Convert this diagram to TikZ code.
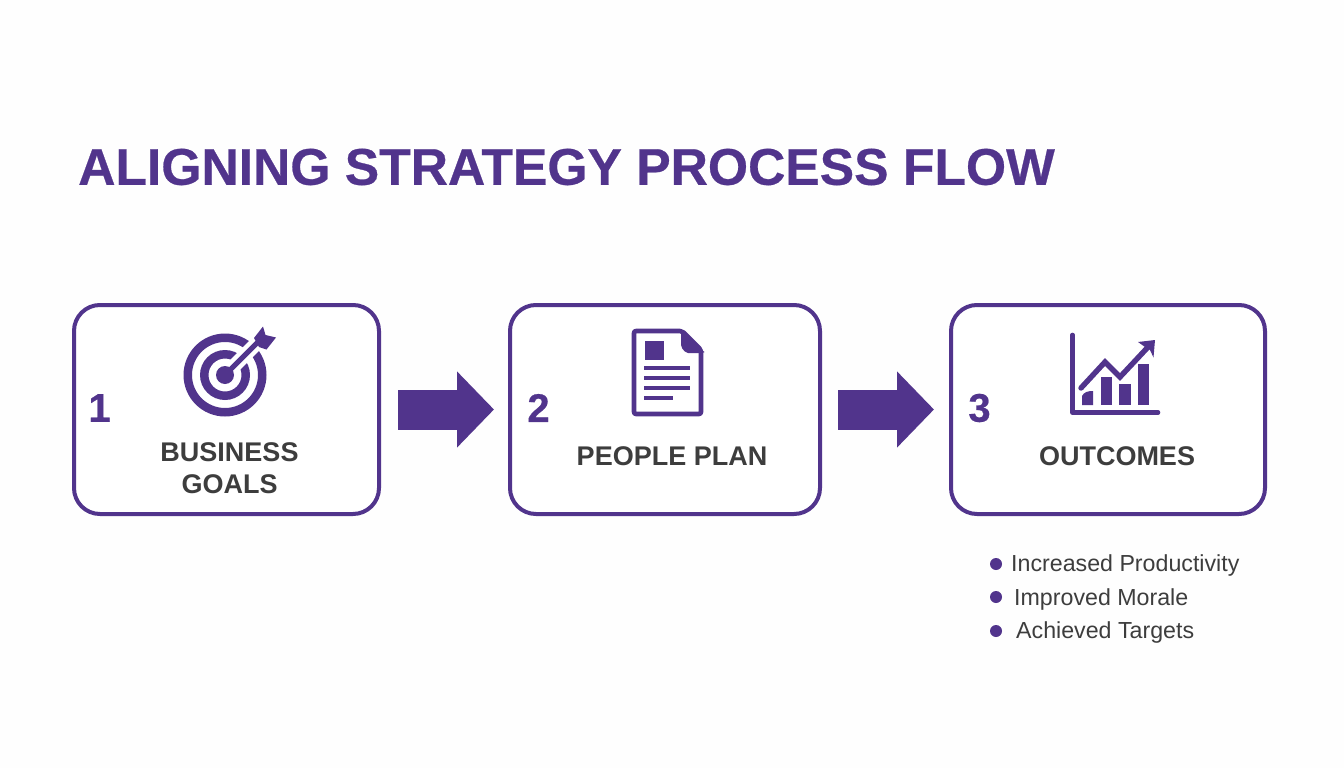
\documentclass[tikz,border=0pt]{standalone}
\usepackage{fontspec}
\setmainfont{Liberation Sans}
\newfontfamily\heavyfont[BoldFont={Liberation Sans Bold},BoldFeatures={FakeBold=0.5}]{Liberation Sans}
\usetikzlibrary{arrows.meta,calc}
\definecolor{vio}{HTML}{51348C}
\definecolor{ink}{HTML}{3D3D3D}
\tikzset{
 card/.style={draw=vio,line width=4pt,rounded corners=26pt,fill=white,inner sep=0pt},
 flow/.style={draw=vio,line width=40pt,-{Triangle[length=37pt,width=74pt,fill=vio]}},
 num/.style={text=vio,font=\heavyfont\fontsize{40}{44}\selectfont\bfseries,inner sep=0pt},
 lab/.style={text=ink,font=\fontsize{27}{32}\selectfont\bfseries,inner sep=0pt,align=center},
 item/.style={text=ink,font=\fontsize{23.2}{26}\selectfont,inner sep=0pt,anchor=west},
 dot/.style={fill=vio,circle,minimum size=12pt,inner sep=0pt},
 ico/.style={draw=vio,line width=4.6pt},
 bar/.style={fill=vio,draw=none}
}
\begin{document}
\begin{tikzpicture}[x=1pt,y=-1pt]
\useasboundingbox (0,0) rectangle (1344,768);
\fill[white!99.5!vio] (0,0) rectangle (1344,768);
\node[anchor=west,text=vio,font=\heavyfont\fontsize{51.6}{56}\selectfont\bfseries,inner sep=0pt] (title) at (78,167) {ALIGNING STRATEGY PROCESS FLOW};
% cards
\node[card,minimum width=305pt,minimum height=209pt] (c1) at (226.5,409.5) {};
\node[card,minimum width=310pt,minimum height=209pt] (c2) at (665,409.5) {};
\node[card,minimum width=314pt,minimum height=209pt] (c3) at (1108,409.5) {};
% arrows
\draw[flow,shorten <=17pt,shorten >=14pt] (c1.east) -- (c2.west);
\draw[flow,shorten <=16pt,shorten >=15pt] (c2.east) -- (c3.west);
% numbers
\node[num] (n1) at (99.5,408) {1};
\node[num] (n2) at (538.5,408) {2};
\node[num] (n3) at (979.5,408) {3};
% labels
\node[lab] (l1a) at (229.5,452) {BUSINESS};
\node[lab] (l1b) at (229.5,484) {GOALS};
\node[lab] (l2) at (672,456) {PEOPLE PLAN};
\node[lab] (l3) at (1117,456) {OUTCOMES};
% list
\node[dot] (d1) at (996,564) {};
\node[dot] (d2) at (996,597) {};
\node[dot] (d3) at (996,631) {};
\node[item] (t1) at (1011,565) {Increased Productivity};
\node[item] (t2) at (1014,599) {Improved Morale};
\node[item] (t3) at (1016,632) {Achieved Targets};
% target icon
\fill[vio,even odd rule] (225,375) circle (41.5) circle (33);
\fill[vio,even odd rule] (225,375) circle (25) circle (16.5);
\fill[vio] (225,375) circle (9);
\draw[white,line width=14pt] (233,367) -- (268,332);
\draw[vio,line width=5.2pt] (227,373) -- (261,339);
\fill[vio] (254,338) -- (263,326.5) -- (265.5,335) -- (276,337.5) -- (266.5,349.5) -- (259,347) -- cycle;
% document icon
\draw[ico,line join=round,rounded corners=2pt] (634,331) -- (682,331) -- (701,350) -- (701,414) -- (634,414) -- cycle;
\fill[vio,rounded corners=2pt] (681,329) -- (704,351) -- (704,353) -- (686,353) -- (681,347) -- cycle;
\fill[vio] (645,341) rectangle (664,360);
\foreach \yy in {368,378,388} \draw[vio,line width=4.8pt] (644,\yy) -- (690,\yy);
\draw[vio,line width=4.8pt] (644,398) -- (673,398);
% chart icon
\draw[ico,line cap=round,line join=round] (1072.5,335) -- (1072.5,412.5) -- (1158,412.5);
\fill[vio] (1082,405) -- (1082,396) .. controls (1084,392) and (1088,391) .. (1093,391) -- (1093,405) -- cycle;
\fill[bar,vio] (1101,377) rectangle (1112,405);
\fill[bar,vio] (1119,384) rectangle (1131,405);
\fill[bar,vio] (1138,364) rectangle (1149,405);
\draw[vio,line width=5.4pt,line cap=round] (1081,388) -- (1105,362) -- (1120,377) -- (1149,346);
\fill[vio,line join=round] (1138,342) -- (1155,340) -- (1153.5,357.5) -- (1150,350) -- (1145,347) -- cycle;
\end{tikzpicture}
\end{document}
